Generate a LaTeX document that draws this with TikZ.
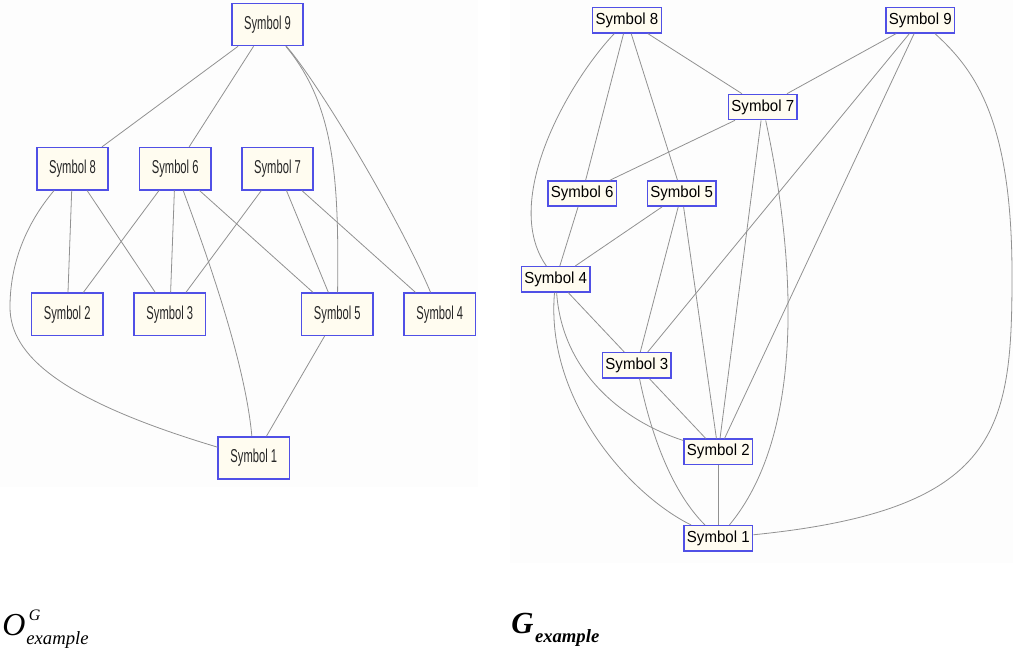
\documentclass[tikz,border=0pt]{standalone}
\usepackage{fontspec}
\setmainfont{Liberation Serif}
\newfontfamily\leftnodefont[FakeStretch=0.60]{Liberation Sans}
\newfontfamily\rightnodefont[FakeStretch=0.94]{Liberation Sans}
\definecolor{boxblue}{RGB}{80,80,230}
\definecolor{boxfill}{RGB}{255,252,240}
\definecolor{edgegray}{RGB}{145,145,145}
\definecolor{panelbg}{RGB}{253,253,253}
\tikzset{
  lbox/.style={draw=boxblue, fill=boxfill, line width=1.1pt, inner sep=0pt,
    minimum width=53.4pt, minimum height=31.6pt,
    font=\leftnodefont\fontsize{14}{14}\selectfont, text=black!85},
  rbox/.style={draw=boxblue, fill=boxfill, line width=1.1pt, inner sep=0pt,
    minimum width=51.6pt, minimum height=18.9pt,
    font=\rightnodefont\fontsize{12}{12}\selectfont, text=black},
  link/.style={draw=edgegray, line width=0.6pt},
  caption/.style={inner sep=0pt, anchor=base west}
}
\begin{document}
\begin{tikzpicture}[x=0.75pt,y=-0.75pt]
\useasboundingbox (0,0) rectangle (1013,653);
% faint panels behind the two graphs
\fill[panelbg] (0,0) rectangle (478,487);
\fill[panelbg] (510,0) rectangle (1013,563);

% ---- left graph ----
\node[lbox] (L9) at (267.5,24.5) {Symbol 9};
\node[lbox] (L8) at (72.5,168.7) {Symbol 8};
\node[lbox] (L6) at (175.2,168.7) {Symbol 6};
\node[lbox] (L7) at (277.5,168.7) {Symbol 7};
\node[lbox] (L2) at (67.2,314.2) {Symbol 2};
\node[lbox] (L3) at (169.8,314.2) {Symbol 3};
\node[lbox] (L5) at (337.3,314.2) {Symbol 5};
\node[lbox] (L4) at (439.8,314.2) {Symbol 4};
\node[lbox] (L1) at (253.8,458) {Symbol 1};

\draw[link] (L9) -- (L8);
\draw[link] (L9) -- (L6);
\draw[link] (L9) .. controls (335,105) and (339,180) .. (L5);
\draw[link] (L9) .. controls (320,85) and (400,220) .. (L4);
\draw[link] (L8) -- (L2);
\draw[link] (L8) -- (L3);
\draw[link] (L8) .. controls (25,225) and (10,265) .. (10,307)
                 .. controls (10,355) and (60,400) .. (L1);
\draw[link] (L6) -- (L2);
\draw[link] (L6) -- (L3);
\draw[link] (L6) .. controls (205,250) and (245,360) .. (L1);
\draw[link] (L6) -- (L5);
\draw[link] (L7) -- (L3);
\draw[link] (L7) -- (L5);
\draw[link] (L7) -- (L4);
\draw[link] (L5) -- (L1);

% ---- right graph ----
\node[rbox] (R8) at (627,20.3) {Symbol 8};
\node[rbox] (R9) at (920.3,20.3) {Symbol 9};
\node[rbox] (R7) at (762.8,107) {Symbol 7};
\node[rbox] (R6) at (582.2,193.5) {Symbol 6};
\node[rbox] (R5) at (681.7,193.5) {Symbol 5};
\node[rbox] (R4) at (555.7,279.3) {Symbol 4};
\node[rbox] (R3) at (636.8,365.3) {Symbol 3};
\node[rbox] (R2) at (718.3,451.8) {Symbol 2};
\node[rbox] (R1) at (718.3,538.3) {Symbol 1};

\draw[link] (R8) .. controls (570,80) and (500,200) .. (R4);
\draw[link] (R8) -- (R6);
\draw[link] (R8) -- (R5);
\draw[link] (R8) -- (R7);
\draw[link] (R9) -- (R7);
\draw[link] (R9) -- (R3);
\draw[link] (R9) -- (R2);
\draw[link] (R9) .. controls (975,70) and (1012,120) .. (1012,275)
                 .. controls (1012,430) and (1000,510) .. (R1);
\draw[link] (R7) -- (R6);
\draw[link] (R7) -- (R2);
\draw[link] (R7) .. controls (800,280) and (800,440) .. (R1);
\draw[link] (R6) -- (R4);
\draw[link] (R5) -- (R4);
\draw[link] (R5) -- (R3);
\draw[link] (R5) -- (R2);
\draw[link] (R4) -- (R3);
\draw[link] (R4) .. controls (562,370) and (620,420) .. (R2);
\draw[link] (R4) .. controls (545,400) and (630,495) .. (R1);
\draw[link] (R3) -- (R2);
\draw[link] (R3) .. controls (650,430) and (670,490) .. (R1);
\draw[link] (R2) -- (R1);

% ---- captions: O^G_example and G_example ----
\node[caption] (capO) at (2,635) {\itshape
  {\fontsize{24}{24}\selectfont O}\kern0.75pt%
  \rlap{\kern1.9pt\raisebox{11.25pt}{\fontsize{12}{12}\selectfont G}}%
  \raisebox{-6.75pt}{\fontsize{14}{14}\selectfont example}};
\node[caption] (capG) at (511,633) {\bfseries\itshape
  {\fontsize{23}{23}\selectfont G}\kern1.2pt%
  \raisebox{-6.75pt}{\fontsize{14}{14}\selectfont example}};
\end{tikzpicture}
\end{document}
